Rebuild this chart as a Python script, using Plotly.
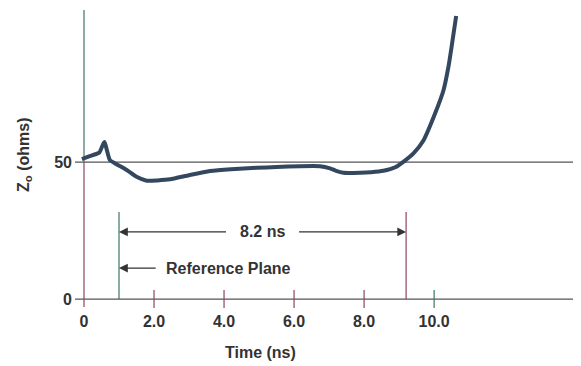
import plotly.graph_objects as go

# ---- data ----
time_ns = [-0.06, 0.27, 0.44, 0.58, 0.74, 0.89, 1.22, 1.5, 1.79, 2.1, 2.46, 3.0, 3.6,
           4.2, 4.93, 5.5, 6.17, 6.74, 7.03, 7.2, 7.41, 7.89, 8.2, 8.55, 8.89, 9.12,
           9.41, 9.7, 10.03, 10.27, 10.41, 10.5, 10.63]
z_ohms = [51.1, 52.6, 53.5, 57.3, 50.7, 49.5, 47.1, 44.6, 43.2, 43.3, 43.7, 45.2, 46.7,
          47.4, 47.9, 48.2, 48.5, 48.5, 47.7, 46.8, 46.1, 46.1, 46.3, 46.8, 48.1, 50.1,
          53.2, 58.0, 67.8, 76.3, 84.8, 92.1, 103.3]

x_tick_vals = [0, 2, 4, 6, 8, 10]
x_tick_text = ["0", "2.0", "4.0", "6.0", "8.0", "10.0"]
y_tick_vals = [0, 50]
y_tick_text = ["0", "50"]

ref_plane_ns = 1.0
end_ns = 9.2
span_label = "8.2 ns"
ref_label = "Reference Plane"
x_title = "Time (ns)"
y_title = "Z<sub>o</sub> (ohms)"

# ---- styling ----
X_RANGE = [-0.257, 14.11]
Y_RANGE = [-4.0, 105.5]
FONT = "Liberation Sans, Arial, sans-serif"
TXT = "#333333"
GREEN = "#3f7566"
MAGENTA = "#8c4566"
GRAY = "#555555"
CURVE = "#33475f"

fig = go.Figure()
fig.add_trace(go.Scatter(
    x=time_ns, y=z_ohms, mode="lines",
    line=dict(color=CURVE, width=4, shape="spline", smoothing=0.5),
    hoverinfo="skip",
))

shapes = []
for yv in y_tick_vals:
    shapes.append(dict(type="line", xref="x", yref="y", x0=X_RANGE[0], x1=X_RANGE[1],
                       y0=yv, y1=yv, line=dict(color=GRAY, width=1.2), layer="below"))
shapes.append(dict(type="line", xref="x", yref="y", x0=0, x1=0, y0=-2.9, y1=y_tick_vals[1],
                   line=dict(color=MAGENTA, width=1.2), layer="below"))
shapes.append(dict(type="line", xref="x", yref="y", x0=0, x1=0, y0=y_tick_vals[1], y1=Y_RANGE[1],
                   line=dict(color=GREEN, width=1.2), layer="below"))
tick_colors = [MAGENTA, MAGENTA, MAGENTA, MAGENTA, GREEN]
for xv, c in zip(x_tick_vals[1:], tick_colors):
    shapes.append(dict(type="line", xref="x", yref="y", x0=xv, x1=xv, y0=-3.3, y1=3.3,
                       line=dict(color=c, width=1.2), layer="below"))
shapes.append(dict(type="line", xref="x", yref="y", x0=ref_plane_ns, x1=ref_plane_ns,
                   y0=0, y1=31.8, line=dict(color=GREEN, width=1.2), layer="below"))
shapes.append(dict(type="line", xref="x", yref="y", x0=end_ns, x1=end_ns,
                   y0=0, y1=31.8, line=dict(color=MAGENTA, width=1.2), layer="below"))

mid = (ref_plane_ns + end_ns) / 2
span_y = 24.5
ref_y = 11.3
arrow = dict(showarrow=True, arrowhead=2, arrowsize=1.6, arrowwidth=1.1, arrowcolor=TXT,
             axref="x", ayref="y", xref="x", yref="y", text="", standoff=0, startstandoff=0)
annotations = [
    dict(arrow, x=ref_plane_ns, y=span_y, ax=mid - 1.0, ay=span_y),
    dict(arrow, x=end_ns, y=span_y, ax=mid + 1.0, ay=span_y),
    dict(arrow, x=ref_plane_ns, y=ref_y, ax=ref_plane_ns + 1.09, ay=ref_y),
    dict(x=mid, y=span_y, xref="x", yref="y", text=span_label, showarrow=False,
         xanchor="center", yanchor="middle",
         font=dict(family=FONT, size=16, color=TXT, weight="bold")),
    dict(x=ref_plane_ns + 1.29, y=ref_y, xref="x", yref="y", text=ref_label, showarrow=False,
         xanchor="left", yanchor="middle",
         font=dict(family=FONT, size=16, color=TXT, weight="bold")),
    dict(x=5.03, y=-0.14, xref="x", yref="paper", text=x_title, showarrow=False,
         xanchor="center", yanchor="middle",
         font=dict(family=FONT, size=16, color=TXT, weight="bold")),
    dict(x=-0.0994, y=52.6, xref="paper", yref="y", text=y_title, showarrow=False,
         xanchor="center", yanchor="middle",
         textangle=-90, font=dict(family=FONT, size=16, color=TXT, weight="bold")),
]

# page body adds an 8px offset, so the figure is shrunk and margins reduced by 8px
fig.update_layout(
    width=573, height=358,
    margin=dict(l=67, r=3, t=2, b=56),
    paper_bgcolor="white", plot_bgcolor="white",
    showlegend=False,
    shapes=shapes, annotations=annotations,
    xaxis=dict(range=X_RANGE, tickvals=x_tick_vals, ticktext=x_tick_text,
               showgrid=False, zeroline=False, showline=False, ticks="",
               automargin=False,
               tickfont=dict(family=FONT, size=16, color=TXT, weight="bold")),
    yaxis=dict(range=Y_RANGE, tickvals=y_tick_vals, ticktext=y_tick_text,
               showgrid=False, zeroline=False, showline=False, ticks="",
               automargin=False, ticklabelstandoff=2,
               tickfont=dict(family=FONT, size=16, color=TXT, weight="bold")),
)

fig.write_html("out.html")
